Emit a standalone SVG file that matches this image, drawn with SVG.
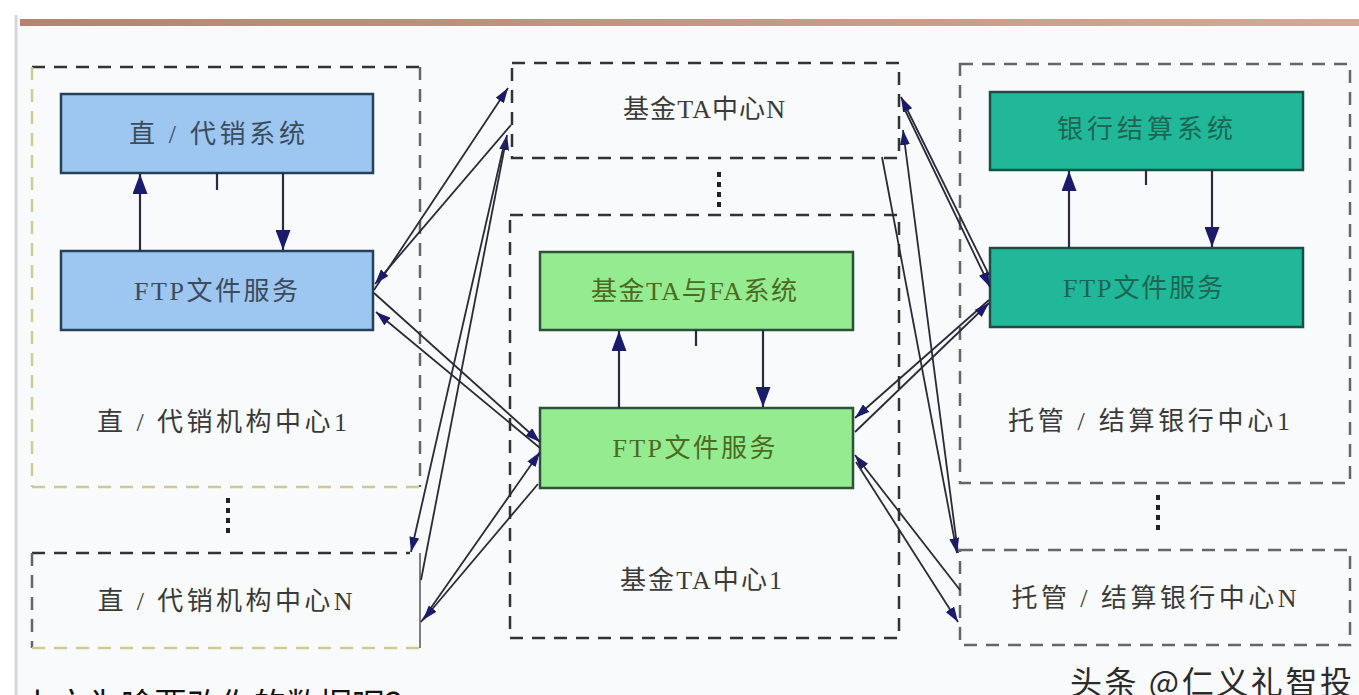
<svg xmlns="http://www.w3.org/2000/svg" width="1359" height="695" viewBox="0 0 1359 695">
<defs>
<style>
.t{font-family:"Liberation Serif","Noto Sans CJK SC",serif;font-size:26px;text-anchor:middle}
.lbl{fill:#3a3a3a}
.bt{fill:#3b4c5e}
.gt{fill:#4b6a22}
.tt{fill:#1c6654}
.blue{fill:#9dc6f0;stroke:#24405a;stroke-width:2.5}
.green{fill:#95eb90;stroke:#2e5238;stroke-width:2.5}
.teal{fill:#20b898;stroke:#1c4f44;stroke-width:2.5}
.dk{fill:none;stroke:#333;stroke-width:2.5;stroke-dasharray:13 9}
.gr{fill:none;stroke:#666;stroke-width:2.5;stroke-dasharray:13 9}
.yl{fill:none;stroke:#cfc994;stroke-width:2.5;stroke-dasharray:13 9}
.dots{stroke:#222;stroke-width:4;stroke-dasharray:5 5}
.c line{stroke:#2a2a3a;stroke-width:1.8}
.v line{stroke:#2a2a45;stroke-width:2.2}
</style>
<marker id="ah" viewBox="0 0 15 10" refX="15" refY="5" markerWidth="15" markerHeight="10" orient="auto" markerUnits="userSpaceOnUse"><path d="M0,0 L15,5 L0,10 z" fill="#1b1b6b"/></marker>
<marker id="av" viewBox="0 0 20 15" refX="20" refY="7.5" markerWidth="20" markerHeight="15" orient="auto" markerUnits="userSpaceOnUse"><path d="M0,0 L20,7.5 L0,15 z" fill="#1b1b6b"/></marker>
<linearGradient id="bar" x1="0" x2="1" y1="0" y2="0"><stop offset="0" stop-color="#b88272"/><stop offset="1" stop-color="#d4a898"/></linearGradient>
</defs>
<rect x="0" y="0" width="1359" height="695" fill="#ffffff"/>
<rect x="17" y="26" width="1342" height="669" fill="#f9fafb"/>
<rect x="20" y="19" width="1339" height="7" fill="url(#bar)"/>
<line x1="16" y1="15" x2="16" y2="695" stroke="#d6d6d6" stroke-width="3"/>

<g id="dist-center-1">
<line class="dk" x1="32" y1="67" x2="420" y2="67"/>
<line class="gr" x1="420" y1="67" x2="420" y2="487"/>
<line class="yl" x1="32" y1="67" x2="32" y2="487"/>
<line class="yl" x1="32" y1="487" x2="420" y2="487"/>
<text class="t lbl" x="222" y="431" textLength="250" lengthAdjust="spacing">直 / 代销机构中心1</text>
</g>
<g id="dist-system">
<rect class="blue" x="61" y="94" width="312" height="79"/>
<text class="t bt" x="217" y="143" textLength="176" lengthAdjust="spacing">直 / 代销系统</text>
</g>
<g id="dist-ftp">
<rect class="blue" x="61" y="251" width="312" height="79"/>
<text class="t bt" x="216" y="300" textLength="164" lengthAdjust="spacing">FTP文件服务</text>
</g>
<line class="dots" x1="228" y1="498" x2="228" y2="535"/>
<g id="dist-center-n">
<line class="dk" x1="32" y1="553" x2="410" y2="553"/>
<line class="gr" x1="32" y1="553" x2="32" y2="648"/>
<line class="yl" x1="32" y1="648" x2="420" y2="648"/>
<line x1="420" y1="553" x2="420" y2="648" stroke="#555" stroke-width="1.5"/>
<text class="t lbl" x="225" y="610" textLength="255" lengthAdjust="spacing">直 / 代销机构中心N</text>
</g>

<g id="ta-center-n">
<rect class="dk" x="512" y="63" width="387" height="95"/>
<text class="t lbl" x="704" y="118" textLength="162" lengthAdjust="spacing">基金TA中心N</text>
</g>
<line class="dots" x1="719" y1="172" x2="719" y2="207"/>
<g id="ta-center-1">
<rect class="dk" x="510" y="215" width="389" height="423"/>
<text class="t lbl" x="701" y="589" textLength="162" lengthAdjust="spacing">基金TA中心1</text>
</g>
<g id="ta-system">
<rect class="green" x="540" y="252" width="313" height="78"/>
<text class="t gt" x="694" y="300" textLength="206" lengthAdjust="spacing">基金TA与FA系统</text>
</g>
<g id="ta-ftp">
<rect class="green" x="540" y="408" width="313" height="80"/>
<text class="t gt" x="694" y="457" textLength="163" lengthAdjust="spacing">FTP文件服务</text>
</g>

<g id="bank-center-1">
<rect class="gr" x="960" y="64" width="390" height="419"/>
<text class="t lbl" x="1149" y="430" textLength="282" lengthAdjust="spacing">托管 / 结算银行中心1</text>
</g>
<g id="bank-system">
<rect class="teal" x="990" y="92" width="313" height="78"/>
<text class="t tt" x="1145" y="138" textLength="176" lengthAdjust="spacing">银行结算系统</text>
</g>
<g id="bank-ftp">
<rect class="teal" x="990" y="248" width="313" height="79"/>
<text class="t tt" x="1143" y="297" textLength="160" lengthAdjust="spacing">FTP文件服务</text>
</g>
<line class="dots" x1="1158" y1="495" x2="1158" y2="532"/>
<g id="bank-center-n">
<rect class="gr" x="960" y="550" width="390" height="95"/>
<text class="t lbl" x="1154" y="607" textLength="285" lengthAdjust="spacing">托管 / 结算银行中心N</text>
</g>

<g id="connectors">
<g class="v">
<line x1="140" y1="251" x2="140" y2="174" marker-end="url(#av)"/>
<line x1="283" y1="173" x2="283" y2="250" marker-end="url(#av)"/>
<line x1="217" y1="173" x2="217" y2="190"/>
<line x1="619" y1="408" x2="619" y2="331" marker-end="url(#av)"/>
<line x1="763" y1="330" x2="763" y2="407" marker-end="url(#av)"/>
<line x1="696" y1="330" x2="696" y2="346"/>
<line x1="1069" y1="248" x2="1069" y2="171" marker-end="url(#av)"/>
<line x1="1212" y1="170" x2="1212" y2="247" marker-end="url(#av)"/>
<line x1="1146" y1="170" x2="1146" y2="185"/>
</g>
<g class="c">
<line x1="374" y1="290" x2="508" y2="88" marker-end="url(#ah)"/>
<line x1="511" y1="125" x2="375" y2="284" marker-end="url(#ah)"/>
<line x1="374" y1="293" x2="540" y2="442" marker-end="url(#ah)"/>
<line x1="540" y1="448" x2="376" y2="312" marker-end="url(#ah)"/>
<line x1="421" y1="580" x2="507" y2="135" marker-end="url(#ah)"/>
<line x1="505" y1="140" x2="411" y2="552" marker-end="url(#ah)"/>
<line x1="421" y1="622" x2="540" y2="452" marker-end="url(#ah)"/>
<line x1="538" y1="484" x2="423" y2="620" marker-end="url(#ah)"/>
<line x1="989" y1="275" x2="901" y2="97" marker-end="url(#ah)"/>
<line x1="905" y1="110" x2="990" y2="287" marker-end="url(#ah)"/>
<line x1="958" y1="553" x2="903" y2="130" marker-end="url(#ah)"/>
<line x1="882" y1="157" x2="957" y2="553" marker-end="url(#ah)"/>
<line x1="989" y1="300" x2="855" y2="418" marker-end="url(#ah)"/>
<line x1="855" y1="432" x2="989" y2="303" marker-end="url(#ah)"/>
<line x1="960" y1="590" x2="855" y2="455" marker-end="url(#ah)"/>
<line x1="856" y1="462" x2="958" y2="622" marker-end="url(#ah)"/>
</g>
</g>

<text x="22" y="717" font-family="'Noto Sans CJK SC',sans-serif" font-size="33" fill="#111">上文为啥要改你的数据呢？</text>
<text x="1070" y="694" font-family="'Noto Sans CJK SC',sans-serif" font-size="32" fill="#2b2b2b" textLength="282" lengthAdjust="spacing">头条 @仁义礼智投</text>
</svg>
